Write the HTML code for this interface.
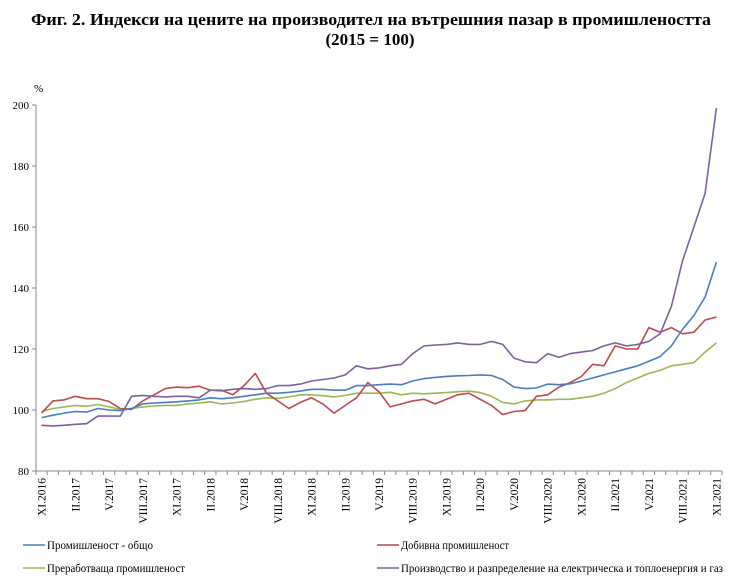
<!DOCTYPE html>
<html><head><meta charset="utf-8"><style>
body{margin:0;background:#fff;width:740px;height:587px;overflow:hidden}
svg{display:block}
text{font-family:"Liberation Serif",serif;fill:#000}
</style></head><body>
<svg id="s" width="740" height="587" xmlns="http://www.w3.org/2000/svg">
<text x="31" y="25" font-size="17" font-weight="bold" textLength="680" lengthAdjust="spacingAndGlyphs">Фиг. 2. Индекси на цените на производител на вътрешния пазар в промишлеността</text>
<text x="370" y="45" font-size="17" font-weight="bold" text-anchor="middle">(2015 = 100)</text>
<text x="34" y="92" font-size="11">%</text>
</svg>
<script>
const s=document.getElementById('s');const NS='http://www.w3.org/2000/svg';
function el(t,a,txt){const e=document.createElementNS(NS,t);for(const k in a)e.setAttribute(k,a[k]);if(txt)e.textContent=txt;s.appendChild(e);return e;}
const X0=36,X1=722,N=61,W=(X1-X0)/N;
const yv=v=>471-(v-80)*3.05;
const xc=i=>X0+W*(i+0.5);
for(let v=80;v<=200;v+=20){el('text',{x:29,y:yv(v)+4,'font-size':11,'text-anchor':'end'},String(v));el('line',{x1:32,x2:36,y1:yv(v),y2:yv(v),stroke:'#888'});}
el('line',{x1:36,x2:36,y1:105,y2:471,stroke:'#888'});
el('line',{x1:36,x2:722,y1:471,y2:471,stroke:'#888'});
for(let i=0;i<=N;i++){const x=X0+W*i;el('line',{x1:x,x2:x,y1:471,y2:475,stroke:'#888'});}
const mon=['XI','II','V','VIII'];
for(let k=0;k<21;k++){const i=k*3;
 let y=2016+Math.floor((i+10)/12);const lbl=mon[k%4]+'.'+y;
 const x=xc(i)+4;el('text',{x:x,y:478,'font-size':11.5,'text-anchor':'end',transform:`rotate(-90 ${x} 478)`},lbl);}
const blue=[97.5,98.3,99,99.5,99.3,100.5,100,99.8,100.5,102,102.3,102.5,102.7,103,103.3,104,103.7,104,104.5,105,105.5,105.5,105.8,106.2,106.8,106.8,106.5,106.5,108,108,108.3,108.5,108.3,109.5,110.3,110.7,111,111.2,111.3,111.5,111.3,110,107.5,107,107.2,108.5,108.3,108.6,109.5,110.5,111.5,112.5,113.5,114.5,116,117.5,121,126.5,131,137,148.5];
const red=[99,103,103.3,104.5,103.7,103.7,102.8,100.5,100.2,103,105,107,107.5,107.3,107.8,106.5,106.5,105,108,112,105.5,103,100.5,102.5,104,102,99,101.5,104,109,106,101,102,103,103.5,102,103.5,105,105.5,103.5,101.5,98.5,99.5,99.8,104.5,105,107.5,109,111,115,114.5,121,120,120,127,125.5,127,125,125.5,129.5,130.5];
const green=[99.5,100.5,101,101.5,101.2,101.8,101,100.2,100.5,101,101.3,101.5,101.5,102,102.3,102.7,102,102.3,102.8,103.5,104,103.8,104.3,105,105,104.7,104.3,104.8,105.5,105.5,105.5,105.8,105,105.5,105.3,105.5,105.7,106,106.2,105.7,104.5,102.5,102,103,103.3,103.3,103.5,103.5,104,104.5,105.5,107,109,110.5,112,113,114.5,115,115.5,119,122];
const purple=[95,94.8,95,95.3,95.5,98,98,98,104.5,104.8,104.5,104.3,104.5,104.5,104,106.5,106.3,106.8,107,106.8,107,108,108,108.5,109.5,110,110.5,111.5,114.5,113.5,113.8,114.5,115,118.5,121,121.3,121.5,122,121.5,121.5,122.5,121.5,117,115.8,115.5,118.5,117.3,118.5,119,119.5,121,122,121,121.5,122.5,125,134,149,160,171,199];
function line(d,c){el('polyline',{points:d.map((v,i)=>xc(i).toFixed(1)+','+yv(v).toFixed(1)).join(' '),fill:'none',stroke:c,'stroke-width':1.6,'stroke-linejoin':'round'});}
line(green,'#98b954');line(red,'#be4b48');line(purple,'#7d60a0');line(blue,'#4a7ebb');
function leg(x,y,c,t,L){el('line',{x1:x,x2:x+22,y1:y,y2:y,stroke:c,'stroke-width':1.6});el('text',{x:x+24,y:y+4,'font-size':11.5,textLength:L,lengthAdjust:'spacingAndGlyphs'},t);}
leg(23,545,'#4a7ebb','Промишленост  - общо',106);
leg(377,545,'#be4b48','Добивна промишленост',108);
leg(23,568,'#98b954','Преработваща промишленост',138);
leg(377,568,'#7d60a0','Производство и разпределение на електрическа и топлоенергия  и газ',322);
</script>
</body></html>
